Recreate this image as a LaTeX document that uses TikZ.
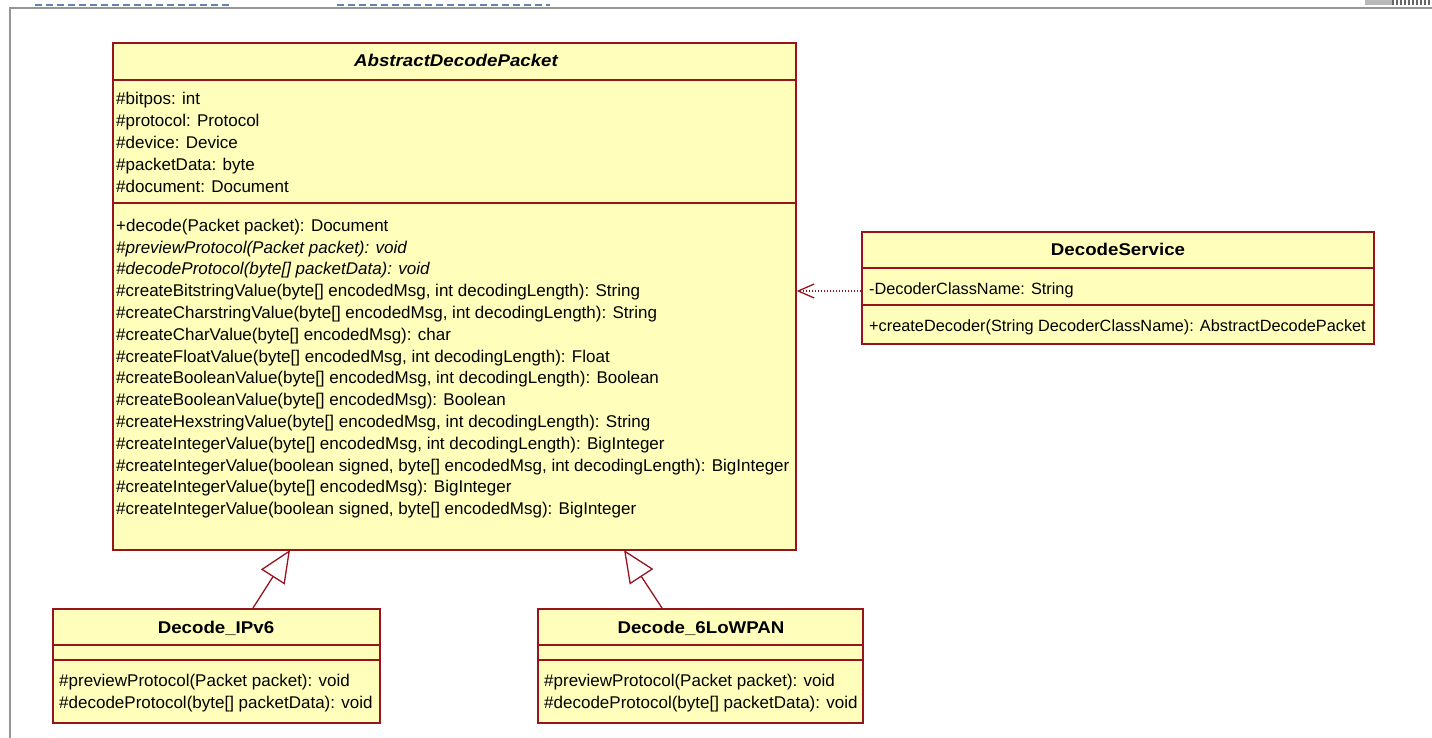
\documentclass[tikz,border=0pt]{standalone}
\usepackage{fontspec}
\setmainfont{Liberation Sans}
\usetikzlibrary{arrows.meta}
\definecolor{umlred}{RGB}{150,20,30}
\definecolor{umlfill}{RGB}{255,255,187}
\definecolor{framegray}{RGB}{150,150,150}
\definecolor{dashblue}{RGB}{100,130,180}
\newcommand{\wide}[1]{\scalebox{1.1}[1]{#1}}
\tikzset{
  classbox/.style={draw=umlred, fill=umlfill, line width=1.6pt, inner sep=0pt, anchor=north west},
  sepline/.style={draw=umlred, line width=1.6pt},
  member/.style={anchor=west, inner sep=0pt, text height=12pt, text depth=3.5pt, font=\fontsize{17}{22}\selectfont},
  cname/.style={anchor=center, inner sep=0pt, text height=12pt, text depth=3.5pt, font=\fontsize{17}{22}\selectfont\bfseries},
  genarrow/.style={draw=umlred, line width=1.3pt, -{Triangle[open, length=32pt, width=28pt, fill=white, line width=1.3pt]}},
  deparrow/.style={draw=umlred, line width=1.3pt, dash pattern=on 1.5pt off 1.5pt, -{Straight Barb[length=16pt, width=14pt, line width=1.3pt, sep=0pt]}}
}
\begin{document}
\begin{tikzpicture}[x=1pt, y=-1pt]
\useasboundingbox (0,0) rectangle (1432,738);
% frame
\draw[framegray, line width=2.5pt] (10,738) -- (10,8) -- (1432,8);
\draw[dashblue, line width=2pt, dash pattern=on 7pt off 4pt] (35,5) -- (232,5);
\draw[dashblue, line width=2pt, dash pattern=on 7pt off 4pt] (337,5) -- (550,5);
\fill[gray!55] (1365,0) rectangle (1392,5);
\draw[gray!80!black, line width=5pt, dash pattern=on 2pt off 2pt] (1392,2.5) -- (1432,2.5);

% AbstractDecodePacket
\node[classbox, minimum width=683pt, minimum height=507pt] (A) at (112,42) {};
\draw[sepline] (112,80) -- (797,80);
\draw[sepline] (112,203) -- (797,203);
\node[cname, font=\fontsize{17}{22}\selectfont\bfseries\itshape] (An) at (456,62) {\wide{AbstractDecodePacket}};
\foreach \t [count=\i] in {{\#bitpos: int},{\#protocol: Protocol},{\#device: Device},{\#packetData: byte},{\#document: Document}}
  \node[member] (Aa\i) at (116,{100+22*(\i-1)}) {\t};
\foreach \t [count=\i] in {
 {+decode(Packet packet): Document},
 {\itshape\#previewProtocol(Packet packet): void},
 {\itshape\#decodeProtocol(byte[] packetData): void},
 {\#createBitstringValue(byte[] encodedMsg, int decodingLength): String},
 {\#createCharstringValue(byte[] encodedMsg, int decodingLength): String},
 {\#createCharValue(byte[] encodedMsg): char},
 {\#createFloatValue(byte[] encodedMsg, int decodingLength): Float},
 {\#createBooleanValue(byte[] encodedMsg, int decodingLength): Boolean},
 {\#createBooleanValue(byte[] encodedMsg): Boolean},
 {\#createHexstringValue(byte[] encodedMsg, int decodingLength): String},
 {\#createIntegerValue(byte[] encodedMsg, int decodingLength): BigInteger},
 {\#createIntegerValue(boolean signed, byte[] encodedMsg, int decodingLength): BigInteger},
 {\#createIntegerValue(byte[] encodedMsg): BigInteger},
 {\#createIntegerValue(boolean signed, byte[] encodedMsg): BigInteger}}
  \node[member] (Am\i) at (116,{227+21.8*(\i-1)}) {\t};

% DecodeService
\node[classbox, minimum width=512pt, minimum height=112pt] (D) at (861,231) {};
\draw[sepline] (861,268) -- (1375,268);
\draw[sepline] (861,305) -- (1375,305);
\node[cname] (Dn) at (1118,251) {\wide{DecodeService}};
\node[member, font=\fontsize{16.3}{22}\selectfont] (Da1) at (869,290) {-DecoderClassName: String};
\node[member, font=\fontsize{16.3}{22}\selectfont] (Dm1) at (869,327) {+createDecoder(String DecoderClassName): AbstractDecodePacket};

% Decode_IPv6
\node[classbox, minimum width=327pt, minimum height=114pt] (I) at (52,608) {};
\draw[sepline] (52,645) -- (381,645);
\draw[sepline] (52,660) -- (381,660);
\node[cname] (In) at (216,629) {\wide{Decode\_IPv6}};
\node[member] (Im1) at (59,682) {\#previewProtocol(Packet packet): void};
\node[member] (Im2) at (59,704) {\#decodeProtocol(byte[] packetData): void};

% Decode_6LoWPAN
\node[classbox, minimum width=325pt, minimum height=114pt] (L) at (537,608) {};
\draw[sepline] (537,645) -- (864,645);
\draw[sepline] (537,660) -- (864,660);
\node[cname] (Ln) at (701,629) {\wide{Decode\_6LoWPAN}};
\node[member] (Lm1) at (544,682) {\#previewProtocol(Packet packet): void};
\node[member] (Lm2) at (544,704) {\#decodeProtocol(byte[] packetData): void};

% connectors
\coordinate (Ibase) at (253,608);
\coordinate (Itip) at (290,550);
\coordinate (Lbase) at (662,608);
\coordinate (Ltip) at (624,550);
\draw[genarrow] (Ibase) -- (Itip);
\draw[genarrow] (Lbase) -- (Ltip);
\draw[deparrow] (D.west |- 0,291) -- (A.east |- 0,291);
\end{tikzpicture}
\end{document}
